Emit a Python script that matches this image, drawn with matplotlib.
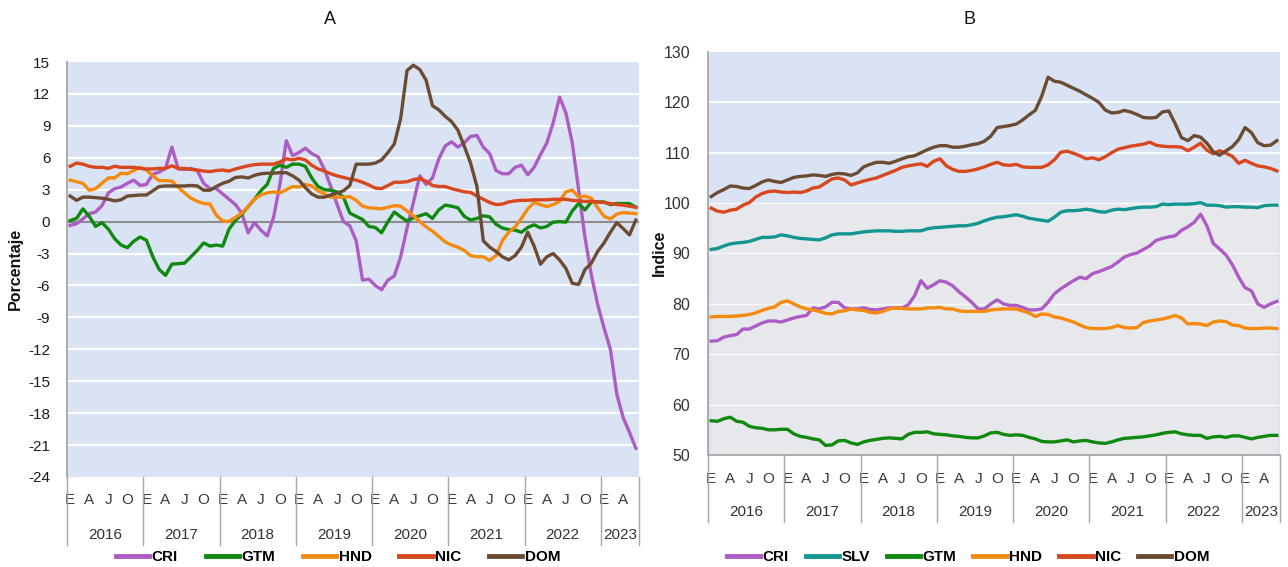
import matplotlib
matplotlib.use("Agg")
import matplotlib.pyplot as plt
from matplotlib.lines import Line2D

plt.rcParams['font.family'] = ['Liberation Sans', 'DejaVu Sans']

# ---------------- data ----------------
years = ["2016", "2017", "2018", "2019", "2020", "2021", "2022", "2023"]
month_letters = ["E", "A", "J", "O"]
n_months = 90  # Jan-2016 .. Jun-2023

# Panel A (porcentaje)
cri_a = [-0.35, -0.2, 0.25, 0.75, 0.9, 1.5, 2.7, 3.1, 3.25, 3.6, 3.9, 3.4,
         3.5, 4.45, 4.65, 5.0, 7.0, 4.95, 4.9, 5.0, 4.8, 3.6, 3.1, 3.1,
         2.6, 2.1, 1.6, 0.8, -1.05, -0.1, -0.8, -1.35, 0.4, 3.5, 7.6, 6.2,
         6.5, 6.9, 6.4, 6.1, 4.9, 3.3, 1.6, 0.0, -0.4, -1.8, -5.5, -5.4,
         -6.0, -6.4, -5.5, -5.1, -3.3, -0.6, 1.8, 4.3, 3.5, 4.1, 5.9, 7.1,
         7.5, 7.0, 7.4, 8.0, 8.1, 7.0, 6.4, 4.8, 4.5, 4.5, 5.1, 5.3,
         4.4, 5.1, 6.3, 7.4, 9.3, 11.7, 10.2, 7.4, 3.0, -1.5, -5.0, -7.8,
         -10.0, -12.0, -16.2, -18.4, -19.8, -21.3]
gtm_a = [0.1, 0.3, 1.2, 0.5, -0.45, -0.1, -0.7, -1.6, -2.2, -2.45, -1.85, -1.45,
         -1.75, -3.3, -4.5, -5.05, -4.0, -3.95, -3.9, -3.3, -2.7, -2.0, -2.3, -2.2,
         -2.3, -0.7, 0.1, 0.7, 1.4, 2.1, 2.9, 3.5, 5.0, 5.3, 5.1, 5.4,
         5.4, 5.2, 4.1, 3.3, 3.0, 2.95, 2.8, 2.3, 0.8, 0.5, 0.2, -0.45,
         -0.55, -1.05, 0.0, 0.9, 0.45, 0.05, 0.35, 0.55, 0.75, 0.3, 1.1, 1.55,
         1.45, 1.3, 0.5, 0.15, 0.3, 0.55, 0.45, -0.25, -0.6, -0.75, -0.8, -1.0,
         -0.55, -0.3, -0.6, -0.45, -0.05, 0.0, -0.05, 1.0, 1.7, 1.1, 1.85, 1.85,
         1.85, 1.6, 1.7, 1.7, 1.7, 1.35]
hnd_a = [3.9, 3.75, 3.6, 2.95, 3.1, 3.6, 4.1, 4.1, 4.55, 4.5, 4.8, 5.1,
         4.85, 4.3, 3.85, 3.85, 3.8, 3.2, 2.7, 2.2, 1.9, 1.7, 1.65, 0.6,
         0.05, 0.0, 0.4, 0.8, 1.4, 2.1, 2.5, 2.7, 2.8, 2.7, 3.0, 3.3,
         3.25, 3.5, 3.35, 2.9, 2.6, 2.3, 2.3, 2.3, 2.35, 2.0, 1.45, 1.3,
         1.25, 1.2, 1.35, 1.5, 1.45, 1.0, 0.55, 0.0, -0.5, -0.9, -1.4, -1.9,
         -2.2, -2.4, -2.7, -3.2, -3.3, -3.3, -3.65, -3.2, -1.8, -1.0, -0.5, 0.3,
         1.2, 1.8, 1.6, 1.4, 1.6, 1.9, 2.8, 2.95, 2.3, 2.4, 2.2, 1.3,
         0.5, 0.25, 0.7, 0.85, 0.8, 0.75]
nic_a = [5.2, 5.5, 5.4, 5.2, 5.1, 5.1, 5.0, 5.2, 5.1, 5.1, 5.1, 5.0,
         4.95, 4.95, 5.0, 5.0, 5.25, 5.0, 5.0, 4.9, 4.85, 4.75, 4.7, 4.8,
         4.85, 4.75, 4.95, 5.1, 5.25, 5.35, 5.4, 5.4, 5.4, 5.6, 5.9, 5.8,
         5.95, 5.8, 5.3, 4.95, 4.75, 4.5, 4.3, 4.15, 4.0, 3.9, 3.7, 3.45,
         3.15, 3.1, 3.4, 3.7, 3.7, 3.75, 3.95, 4.05, 3.8, 3.4, 3.3, 3.3,
         3.1, 2.95, 2.8, 2.75, 2.4, 2.1, 1.8, 1.6, 1.65, 1.85, 1.95, 2.0,
         2.0, 2.05, 2.05, 2.05, 2.1, 2.1, 2.1, 2.0, 1.95, 1.9, 1.9, 1.85,
         1.8, 1.7, 1.6, 1.55, 1.45, 1.35]
dom_a = [2.4, 2.0, 2.3, 2.3, 2.25, 2.2, 2.1, 1.95, 2.05, 2.4, 2.45, 2.5,
         2.5, 2.9, 3.3, 3.35, 3.35, 3.35, 3.35, 3.4, 3.35, 2.95, 2.95, 3.3,
         3.6, 3.8, 4.15, 4.2, 4.1, 4.35, 4.5, 4.55, 4.55, 4.6, 4.6, 4.3,
         3.9, 3.2, 2.6, 2.3, 2.3, 2.5, 2.7, 2.9, 3.4, 5.4, 5.4, 5.4,
         5.5, 5.8, 6.5, 7.3, 9.7, 14.2, 14.7, 14.3, 13.3, 10.9, 10.5, 9.9,
         9.4, 8.6, 7.1, 5.5, 3.3, -1.8, -2.4, -2.8, -3.3, -3.6, -3.2, -2.4,
         -1.0, -2.3, -4.0, -3.3, -3.0, -3.6, -4.4, -5.8, -5.9, -4.5, -3.9, -2.8,
         -2.0, -1.0, -0.1, -0.65, -1.25, 0.15]

# Panel B (indice)
cri_b = [72.6, 72.7, 73.4, 73.7, 73.9, 75.0, 75.0, 75.6, 76.2, 76.6, 76.6, 76.4,
         76.8, 77.2, 77.5, 77.7, 79.2, 79.0, 79.4, 80.3, 80.3, 79.2, 79.0, 79.0,
         79.2, 78.9, 78.8, 79.0, 79.2, 79.2, 79.2, 79.8, 81.6, 84.6, 83.1, 83.8,
         84.6, 84.3, 83.6, 82.4, 81.4, 80.3, 79.0, 79.0, 80.0, 80.8, 80.0, 79.7,
         79.7, 79.3, 78.8, 78.8, 79.0, 80.3, 82.0, 83.0, 83.8, 84.6, 85.3, 85.0,
         86.0, 86.4, 86.9, 87.4, 88.3, 89.3, 89.8, 90.1, 90.8, 91.5, 92.6, 93.0,
         93.3, 93.5, 94.6, 95.3, 96.2, 97.8, 95.5, 92.0, 90.9, 89.7, 87.8, 85.3,
         83.2, 82.6, 80.0, 79.3, 80.0, 80.5]
slv_b = [90.8, 91.0, 91.5, 91.9, 92.1, 92.2, 92.4, 92.8, 93.2, 93.2, 93.3, 93.7,
         93.5, 93.2, 93.0, 92.9, 92.8, 92.7, 93.1, 93.7, 93.9, 93.9, 93.9, 94.1,
         94.3, 94.4, 94.5, 94.5, 94.5, 94.4, 94.4, 94.5, 94.5, 94.5, 94.9, 95.1,
         95.2, 95.3, 95.4, 95.5, 95.5, 95.7, 96.0, 96.5, 96.9, 97.2, 97.3, 97.5,
         97.7, 97.4, 97.0, 96.8, 96.6, 96.4, 97.2, 98.2, 98.5, 98.5, 98.6, 98.8,
         98.6, 98.3, 98.2, 98.6, 98.8, 98.7, 98.9, 99.1, 99.2, 99.2, 99.3, 99.8,
         99.7, 99.8, 99.8, 99.8, 99.9, 100.1, 99.6, 99.6, 99.5, 99.2, 99.3, 99.3,
         99.2, 99.2, 99.1, 99.5, 99.6, 99.6]
gtm_b = [56.8, 56.7, 57.2, 57.5, 56.7, 56.5, 55.7, 55.4, 55.3, 55.0, 55.0, 55.1,
         55.1, 54.2, 53.7, 53.5, 53.2, 53.0, 51.9, 52.0, 52.8, 52.9, 52.4, 52.1,
         52.6, 52.9, 53.1, 53.3, 53.4, 53.3, 53.2, 54.1, 54.5, 54.5, 54.6, 54.2,
         54.1, 54.0, 53.8, 53.7, 53.5, 53.4, 53.4, 53.8, 54.4, 54.5, 54.1, 53.9,
         54.0, 53.9, 53.5, 53.2, 52.7, 52.6, 52.6, 52.8, 53.0, 52.6, 52.8, 52.9,
         52.6, 52.4, 52.3, 52.6, 53.0, 53.3, 53.4, 53.5, 53.6, 53.8, 54.0, 54.3,
         54.5, 54.6, 54.2, 54.0, 53.9, 53.9, 53.3, 53.6, 53.7, 53.5, 53.8, 53.8,
         53.5, 53.2, 53.5, 53.7, 53.9, 53.9]
hnd_b = [77.4, 77.5, 77.5, 77.5, 77.6, 77.7, 77.9, 78.2, 78.7, 79.1, 79.4, 80.3,
         80.6, 80.0, 79.4, 79.0, 78.8, 78.5, 78.1, 78.0, 78.5, 78.6, 79.0, 78.8,
         78.7, 78.3, 78.2, 78.5, 79.0, 79.2, 79.1, 79.0, 79.0, 79.0, 79.2, 79.2,
         79.3, 79.0, 79.0, 78.6, 78.5, 78.5, 78.5, 78.5, 78.8, 78.9, 79.0, 79.0,
         79.0, 78.6, 78.2, 77.5, 78.0, 77.9, 77.4, 77.2, 76.8, 76.4, 75.8, 75.3,
         75.1, 75.1, 75.1, 75.3, 75.7, 75.3, 75.2, 75.3, 76.3, 76.6, 76.8, 77.0,
         77.3, 77.7, 77.2, 76.0, 76.1, 76.0, 75.7, 76.4, 76.6, 76.5, 75.8, 75.7,
         75.2, 75.1, 75.1, 75.2, 75.2, 75.1]
nic_b = [99.0, 98.4, 98.2, 98.6, 98.8, 99.6, 100.1, 101.2, 101.9, 102.3, 102.4, 102.2,
         102.1, 102.2, 102.1, 102.4, 103.0, 103.2, 104.0, 104.8, 105.0, 104.6, 103.6, 104.0,
         104.4, 104.7, 105.0, 105.5, 106.0, 106.5, 107.1, 107.4, 107.6, 107.8, 107.3, 108.3,
         108.8, 107.4, 106.7, 106.3, 106.3, 106.5, 106.8, 107.2, 107.7, 108.1, 107.6, 107.5,
         107.7, 107.2, 107.1, 107.1, 107.1, 107.6, 108.6, 110.1, 110.3, 109.9, 109.4, 108.8,
         109.0, 108.6, 109.2, 110.0, 110.7, 111.0, 111.3, 111.5, 111.7, 112.1, 111.5, 111.3,
         111.2, 111.2, 111.1, 110.4, 111.1, 111.9, 110.5, 109.8, 110.4, 109.9, 109.3, 107.9,
         108.5, 107.9, 107.4, 107.2, 106.9, 106.4]
dom_b = [101.3, 102.1, 102.7, 103.4, 103.3, 103.0, 102.9, 103.5, 104.2, 104.6, 104.3, 104.1,
         104.6, 105.1, 105.3, 105.4, 105.6, 105.5, 105.3, 105.7, 105.9, 105.8, 105.5, 106.0,
         107.2, 107.7, 108.1, 108.1, 107.9, 108.3, 108.8, 109.2, 109.4, 110.0, 110.6, 111.1,
         111.4, 111.4, 111.1, 111.1, 111.3, 111.6, 111.8, 112.3, 113.3, 115.0, 115.2, 115.4,
         115.7, 116.5, 117.5, 118.4, 121.2, 125.0, 124.2, 124.0, 123.4, 122.8, 122.2, 121.5,
         120.8, 120.0, 118.5, 117.9, 118.0, 118.4, 118.1, 117.6, 117.0, 116.9, 117.0, 118.1,
         118.3, 115.8, 113.0, 112.4, 113.4, 113.1, 111.9, 110.2, 109.5, 110.4, 111.2, 112.6,
         115.0, 114.0, 112.0, 111.4, 111.5, 112.4]

colors = {"CRI": "#AC5CC4", "SLV": "#12968F", "GTM": "#10890F",
          "HND": "#F58A0C", "NIC": "#D8471E", "DOM": "#6B4C33"}

W, H = 1288, 567
fig = plt.figure(figsize=(W / 100, H / 100), dpi=100)

BLUE = "#DAE3F3"
GRAY = "#E7E8EC"
TXT = "#1a1a1a"
SEP = "#A6A6A6"
x = list(range(n_months))


def px_rect(l, t, r, b):
    return [l / W, 1 - b / H, (r - l) / W, (b - t) / H]


def month_axis(ax, letter_off, year_off, sep_len, fs_l=11, fs_y=11):
    ax.set_xlim(-0.5, n_months - 0.5)
    ax.set_xticks([])
    tr = ax.get_xaxis_transform()
    ax_h = ax.get_position().height * H
    frac = sep_len / ax_h
    for k in range(len(years) + 1):
        xs = min(12 * k - 0.5, n_months - 0.5)
        ax.plot([xs, xs], [0, -frac], transform=tr, color=SEP, lw=1.0,
                clip_on=False, zorder=5)
    for m in range(0, n_months, 3):
        lab = month_letters[(m % 12) // 3]
        ax.annotate(lab, xy=(m, 0), xycoords=tr, xytext=(0, -letter_off),
                    textcoords='offset pixels', ha='center', va='center',
                    fontsize=fs_l, color="#3a3a3a")
    for k, yl in enumerate(years):
        x0 = 12 * k - 0.5
        x1 = min(12 * (k + 1) - 0.5, n_months - 0.5)
        ax.annotate(yl, xy=((x0 + x1) / 2, 0), xycoords=tr,
                    xytext=(0, -year_off), textcoords='offset pixels',
                    ha='center', va='center', fontsize=fs_y, color="#333333")


# ---------------- Panel A ----------------
axA = fig.add_axes(px_rect(67, 62, 639, 477))
axA.set_facecolor(BLUE)
axA.set_ylim(-24, 15)
yt = list(range(-24, 16, 3))
axA.set_yticks(yt)
axA.set_yticklabels([str(v) for v in yt], fontsize=11, color=TXT)
for v in yt:
    if v not in (-24, 15, 0):
        axA.axhline(v, color="white", lw=1.5, zorder=1)
axA.axhline(0, color="#8C8C8C", lw=1.5, zorder=2)
for s in ["top", "right", "bottom"]:
    axA.spines[s].set_visible(False)
axA.spines["left"].set_color("#A0A0A0")
axA.spines["left"].set_linewidth(1.2)
axA.tick_params(axis='y', length=0, pad=12)
seriesA = [("CRI", cri_a), ("GTM", gtm_a), ("HND", hnd_a), ("NIC", nic_a), ("DOM", dom_a)]
for name, vals in seriesA:
    axA.plot(x, vals, color=colors[name], lw=2.4, zorder=3, solid_joinstyle='round')
month_axis(axA, 23, 58, 68)

# ---------------- Panel B ----------------
axB = fig.add_axes(px_rect(708, 52, 1280, 455))
axB.set_facecolor(BLUE)
axB.set_ylim(50, 130)
ytb = list(range(50, 131, 10))
axB.set_yticks(ytb)
axB.set_yticklabels([str(v) for v in ytb], fontsize=11.5, color="#333333")
axB.fill_between([0, n_months - 1], 50, 100, color=GRAY, zorder=0.5, lw=0)
for v in ytb[1:-1]:
    axB.axhline(v, color="white", lw=1.3 if v > 100 else 1.0,
                alpha=1.0 if v > 100 else 0.8, zorder=1)
for s in ["top", "right"]:
    axB.spines[s].set_visible(False)
for s in ["left", "bottom"]:
    axB.spines[s].set_color("#A0A0A0")
    axB.spines[s].set_linewidth(1.2)
axB.tick_params(axis='y', length=0, pad=13)
seriesB = [("CRI", cri_b), ("SLV", slv_b), ("GTM", gtm_b), ("HND", hnd_b),
           ("NIC", nic_b), ("DOM", dom_b)]
for name, vals in seriesB:
    axB.plot(x, vals, color=colors[name], lw=2.4, zorder=3, solid_joinstyle='round')
month_axis(axB, 24, 57, 67)

# ---------------- titles / labels ----------------
fig.text(330 / W, 1 - 20 / H, "A", ha='center', va='center', fontsize=13, color="#111111")
fig.text(970 / W, 1 - 20 / H, "B", ha='center', va='center', fontsize=13, color="#111111")
fig.text(15 / W, 1 - 269 / H, "Porcentaje", rotation=90, ha='center', va='center',
         fontsize=11.5, fontweight='bold', color="#111111")
fig.text(659 / W, 1 - 253 / H, "Indice", rotation=90, ha='center', va='center',
         fontsize=11.5, fontweight='bold', color="#111111")


# ---------------- legends ----------------
def make_legend(names, cx, colsp):
    handles = [Line2D([0], [0], color=colors[n], lw=3.5) for n in names]
    fig.legend(handles, names, loc='center', bbox_to_anchor=(cx / W, 1 - 557 / H),
               ncol=len(names), frameon=False, handlelength=2.2,
               handletextpad=0.15, columnspacing=colsp,
               prop={'weight': 'bold', 'size': 11})


make_legend(["CRI", "GTM", "HND", "NIC", "DOM"], 338, 1.8)
make_legend(["CRI", "SLV", "GTM", "HND", "NIC", "DOM"], 968, 1.1)

fig.savefig("out.png", dpi=100)
